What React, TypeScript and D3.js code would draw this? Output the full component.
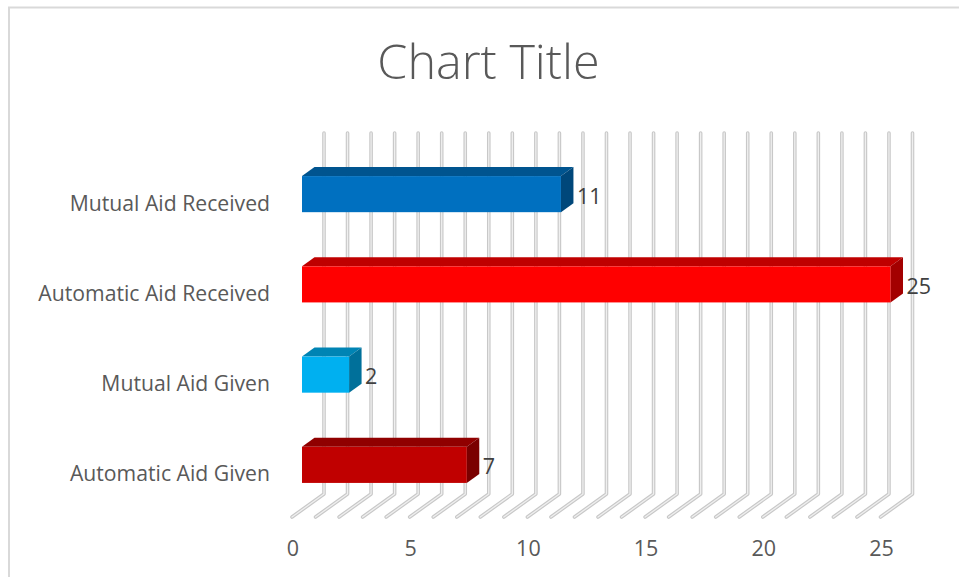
import * as d3 from "d3";

const WIDTH = 959;
const HEIGHT = 577;
const FONT = "'Open Sans', sans-serif";

const categories = [
  "Mutual Aid Received",
  "Automatic Aid Received",
  "Mutual Aid Given",
  "Automatic Aid Given",
];
const values = [11, 25, 2, 7];
const faceColors = ["#0070c0", "#ff0000", "#00b0f0", "#c00000"];
const topColors = ["#00548f", "#bf0000", "#0084b4", "#900000"];
const sideColors = ["#00477a", "#a30000", "#00709a", "#7a0000"];
const axisTicks = [0, 5, 10, 15, 20, 25];
const gridValues = d3.range(0, 26);

const xScale = d3.scaleLinear().domain([0, 25]).range([302, 890.5]);
const yScale = d3
  .scaleBand<string>()
  .domain(categories)
  .range([149, 510])
  .paddingInner(0.6)
  .paddingOuter(0.3);

// the 3d offset of the bars and of the floor
const DEPTH_X = 12.5;
const DEPTH_Y = 9;
const WALL_TOP = 133;
const WALL_BOTTOM = 494;
const FLOOR_FRONT = 517;

const gridPath = (v: number) => {
  const x = xScale(v);
  return d3.line()([
    [x + 22, WALL_TOP],
    [x + 22, WALL_BOTTOM],
    [x - 10, FLOOR_FRONT],
  ]) as string;
};

export default function App() {
  const bandH = yScale.bandwidth();
  const x0 = xScale(0);

  return (
    <svg
      width={WIDTH}
      height={HEIGHT}
      style={{ position: "absolute", left: 0, top: 0, background: "#fff" }}
    >
      <path
        d={`M9,${HEIGHT}V7.5H${WIDTH}`}
        fill="none"
        stroke="#d9d9d9"
        strokeWidth={2}
      />

      <text
        x={488.5}
        y={79}
        textAnchor="middle"
        fontFamily={FONT}
        fontSize={48.5}
        fontWeight={300}
        fill="#595959"
      >
        Chart Title
      </text>

      {gridValues.map((v) => (
        <g key={v} fill="none" strokeLinecap="round" strokeLinejoin="round">
          <path d={gridPath(v)} stroke="#c8c8c8" strokeWidth={3.6} />
          <path d={gridPath(v)} stroke="#efefef" strokeWidth={1.3} />
        </g>
      ))}

      {categories.map((c, i) => {
        const y = yScale(c) as number;
        const x1 = xScale(values[i]);
        return (
          <g key={c}>
            <path
              d={`M${x0},${y}L${x0 + DEPTH_X},${y - DEPTH_Y}H${x1 + DEPTH_X}L${x1},${y}Z`}
              fill={topColors[i]}
            />
            <path
              d={`M${x1},${y}L${x1 + DEPTH_X},${y - DEPTH_Y}V${y + bandH - DEPTH_Y}L${x1},${y + bandH}Z`}
              fill={sideColors[i]}
            />
            <rect x={x0} y={y} width={x1 - x0} height={bandH} fill={faceColors[i]} />
            <text
              x={x1 + 16}
              y={y + bandH / 2 + 1}
              dominantBaseline="central"
              fontFamily={FONT}
              fontSize={21.5}
              fill="#404040"
            >
              {values[i]}
            </text>
            <text
              x={270}
              y={y + bandH / 2 + 8}
              textAnchor="end"
              dominantBaseline="central"
              fontFamily={FONT}
              fontSize={21.2}
              fill="#595959"
            >
              {c}
            </text>
          </g>
        );
      })}

      {axisTicks.map((t) => (
        <text
          key={t}
          x={xScale(t) - 9}
          y={547}
          textAnchor="middle"
          dominantBaseline="central"
          fontFamily={FONT}
          fontSize={21.5}
          fill="#595959"
        >
          {t}
        </text>
      ))}
    </svg>
  );
}
